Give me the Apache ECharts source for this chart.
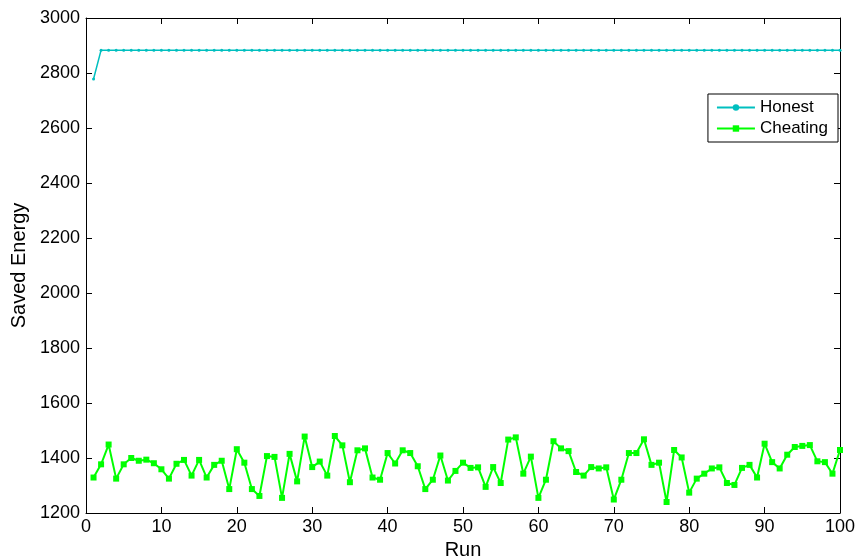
<!DOCTYPE html>
<html>
<head>
<meta charset="utf-8">
<script src="https://cdn.jsdelivr.net/npm/echarts@6/dist/echarts.min.js"></script>
<style>
html,body{margin:0;padding:0;background:#fff;}
#chart{width:863px;height:557px;}
</style>
</head>
<body>
<div id="chart"></div>
<script>
var runs = [];
for (var i = 1; i <= 100; i++) runs.push(i);

var honest = [2778].concat(new Array(99).fill(2883));

var cheating = [
  1329,1377,1449,1325,1377,1400,1390,1394,1381,1359,
  1325,1379,1393,1336,1393,1329,1375,1390,1287,1432,
  1383,1287,1262,1407,1404,1255,1415,1315,1478,1367,
  1387,1336,1480,1446,1312,1428,1435,1329,1321,1418,
  1380,1428,1418,1370,1287,1321,1409,1318,1353,1383,
  1364,1366,1295,1367,1309,1467,1475,1343,1405,1255,
  1321,1461,1435,1425,1349,1336,1367,1362,1366,1249,
  1321,1418,1418,1468,1375,1383,1240,1429,1402,1274,
  1325,1343,1362,1366,1309,1302,1364,1375,1329,1452,
  1385,1362,1412,1440,1444,1447,1388,1385,1343,1429
];

var xTicks = {min: 0, max: 100, interval: 10};
var yTicks = {min: 1200, max: 3000, interval: 200};

function pairs(xs, ys) { return xs.map(function (x, k) { return [x, ys[k]]; }); }
function plain(v) { return String(v); }

var font = 'Liberation Sans, Arial, sans-serif';
var chart = echarts.init(document.getElementById('chart'), null, {renderer: 'canvas'});

var axisLine = {show: true, onZero: false, lineStyle: {color: '#000', width: 1}};
var axisTick = {show: true, inside: true, length: 6, lineStyle: {color: '#000', width: 1}};

chart.setOption({
  animation: false,
  backgroundColor: '#fff',
  grid: {left: 86, right: 23, top: 18, bottom: 44, containLabel: false, outerBoundsMode: 'none'},
  legend: {
    orient: 'vertical',
    right: 25,
    top: 94,
    backgroundColor: '#fff',
    borderColor: '#000',
    borderWidth: 1,
    padding: [5, 10, 5, 8],
    itemGap: 4,
    itemWidth: 38,
    itemHeight: 8,
    textStyle: {fontFamily: font, fontSize: 17, color: '#000'},
    data: ['Honest', 'Cheating']
  },
  xAxis: [{
    type: 'value', min: xTicks.min, max: xTicks.max, interval: xTicks.interval,
    name: 'Run', nameLocation: 'middle', nameGap: 25,
    nameTextStyle: {fontFamily: font, fontSize: 20, color: '#000'},
    axisLine: axisLine, axisTick: axisTick, splitLine: {show: false},
    axisLabel: {fontFamily: font, fontSize: 18, color: '#000', margin: 5, formatter: plain}
  }, {
    type: 'value', position: 'top', min: xTicks.min, max: xTicks.max, interval: xTicks.interval,
    axisLine: axisLine, axisTick: axisTick, splitLine: {show: false}, axisLabel: {show: false}
  }],
  yAxis: [{
    type: 'value', min: yTicks.min, max: yTicks.max, interval: yTicks.interval,
    name: 'Saved Energy', nameLocation: 'middle', nameGap: 51,
    nameTextStyle: {fontFamily: font, fontSize: 20, color: '#000'},
    axisLine: axisLine, axisTick: axisTick, splitLine: {show: false},
    axisLabel: {fontFamily: font, fontSize: 18, color: '#000', margin: 6, formatter: plain}
  }, {
    type: 'value', position: 'right', min: yTicks.min, max: yTicks.max, interval: yTicks.interval,
    axisLine: axisLine, axisTick: axisTick, splitLine: {show: false}, axisLabel: {show: false}
  }],
  series: [{
    name: 'Honest',
    type: 'line',
    data: pairs(runs, honest),
    symbol: 'circle',
    symbolSize: 3,
    showAllSymbol: true,
    itemStyle: {color: '#00BFBF'},
    lineStyle: {color: '#00BFBF', width: 1.5}
  }, {
    name: 'Cheating',
    type: 'line',
    data: pairs(runs, cheating),
    symbol: 'rect',
    symbolSize: 6,
    showAllSymbol: true,
    itemStyle: {color: '#00FF00'},
    lineStyle: {color: '#00FF00', width: 2}
  }]
});
</script>
</body>
</html>
